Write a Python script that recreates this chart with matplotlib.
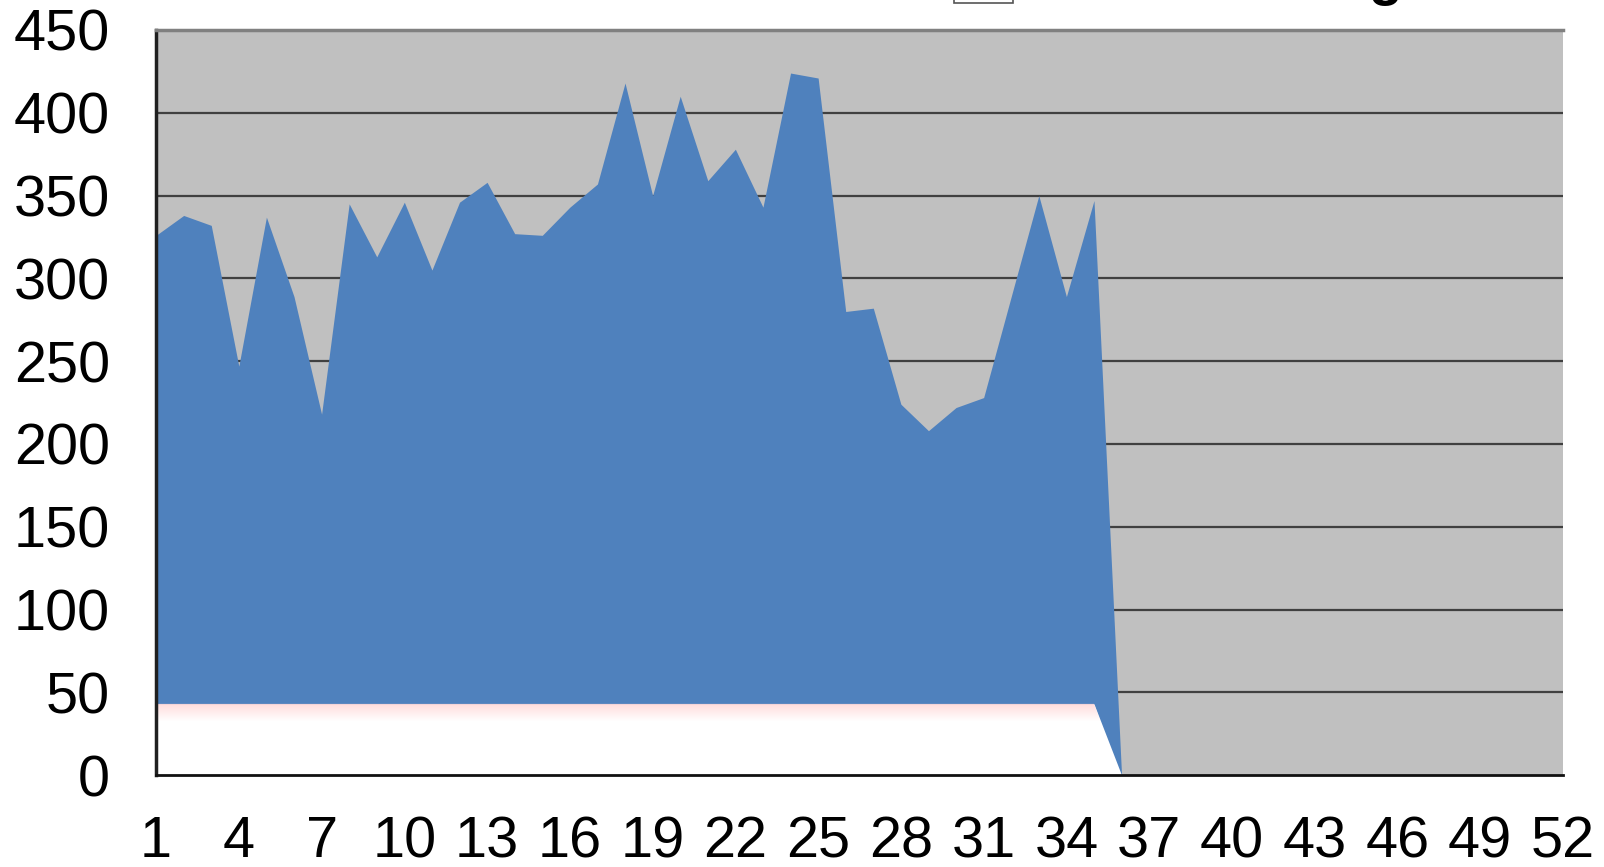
import numpy as np
import matplotlib
matplotlib.use("Agg")
import matplotlib.pyplot as plt
from matplotlib.patches import Rectangle

plt.rcParams['font.family'] = ['Liberation Sans', 'DejaVu Sans']

# weekly values, weeks 1..52 (only the first 36 carry data)
weeks = list(range(1, 37))
volume = [326, 338, 332, 247, 337, 289, 218, 345, 313, 346,
          305, 346, 358, 327, 326, 343, 357, 418, 350, 410,
          359, 378, 343, 424, 421, 280, 282, 224, 208, 222,
          228, 289, 350, 289, 347, 0]
baseline = [43] * 35 + [0]
xticks = list(range(1, 53, 3))
yticks = list(range(0, 451, 50))
legend_label = "Total Funding"

fig = plt.figure(figsize=(16.04, 8.67), dpi=100)
ax = fig.add_axes([0.0973, 0.106, 0.8771, 0.8594])
ax.set_facecolor("#C0C0C0")

ax.fill_between(weeks, 0, volume, color="#4F81BD", lw=0, zorder=2)
white = ax.fill_between(weeks, 0, baseline, color="white", lw=0, zorder=3)

# faint pink fade along the top of the baseline area
grad = np.linspace(0, 1, 200)
top = max(baseline)
alpha = np.clip((grad - 0.75) / 0.25, 0, 1)
rgba = np.zeros((200, 1, 4))
rgba[:, 0, 0] = 1.0
rgba[:, 0, 1] = 0.84
rgba[:, 0, 2] = 0.84
rgba[:, 0, 3] = alpha * 0.9
im = ax.imshow(rgba, extent=[1, 52, 0, top], origin="lower", aspect="auto",
               interpolation="bilinear", zorder=4)
im.set_clip_path(white.get_paths()[0], transform=ax.transData)

ax.set_xlim(1, 52)
ax.set_ylim(0, 450)
ax.set_xticks(xticks)
ax.set_yticks(yticks)
ax.tick_params(length=0, labelsize=41.5)
ax.tick_params(axis="y", pad=33)
ax.tick_params(axis="x", pad=29)

for y in yticks[1:-1]:
    ax.axhline(y, color="#404040", lw=1.6, zorder=1)

ax.spines["top"].set_color("#808080")
ax.spines["top"].set_linewidth(2.5)
ax.spines["right"].set_visible(False)
ax.spines["left"].set_color("#202020")
ax.spines["left"].set_linewidth(2.5)
ax.spines["bottom"].set_color("#111111")
ax.spines["bottom"].set_linewidth(2)
for s in ax.spines.values():
    s.set_zorder(6)

# legend entry sitting at the upper edge of the figure
fig.patches.append(Rectangle((954 / 1604, 1 - 3 / 867), 59 / 1604, 0.05,
                             transform=fig.transFigure, facecolor="white",
                             edgecolor="#555555", lw=1.2))
fig.text(1403 / 1604, 1 + 6 / 867, legend_label, ha="right", va="baseline",
         fontsize=40, fontweight="bold")

fig.savefig("out.png", dpi=100)
